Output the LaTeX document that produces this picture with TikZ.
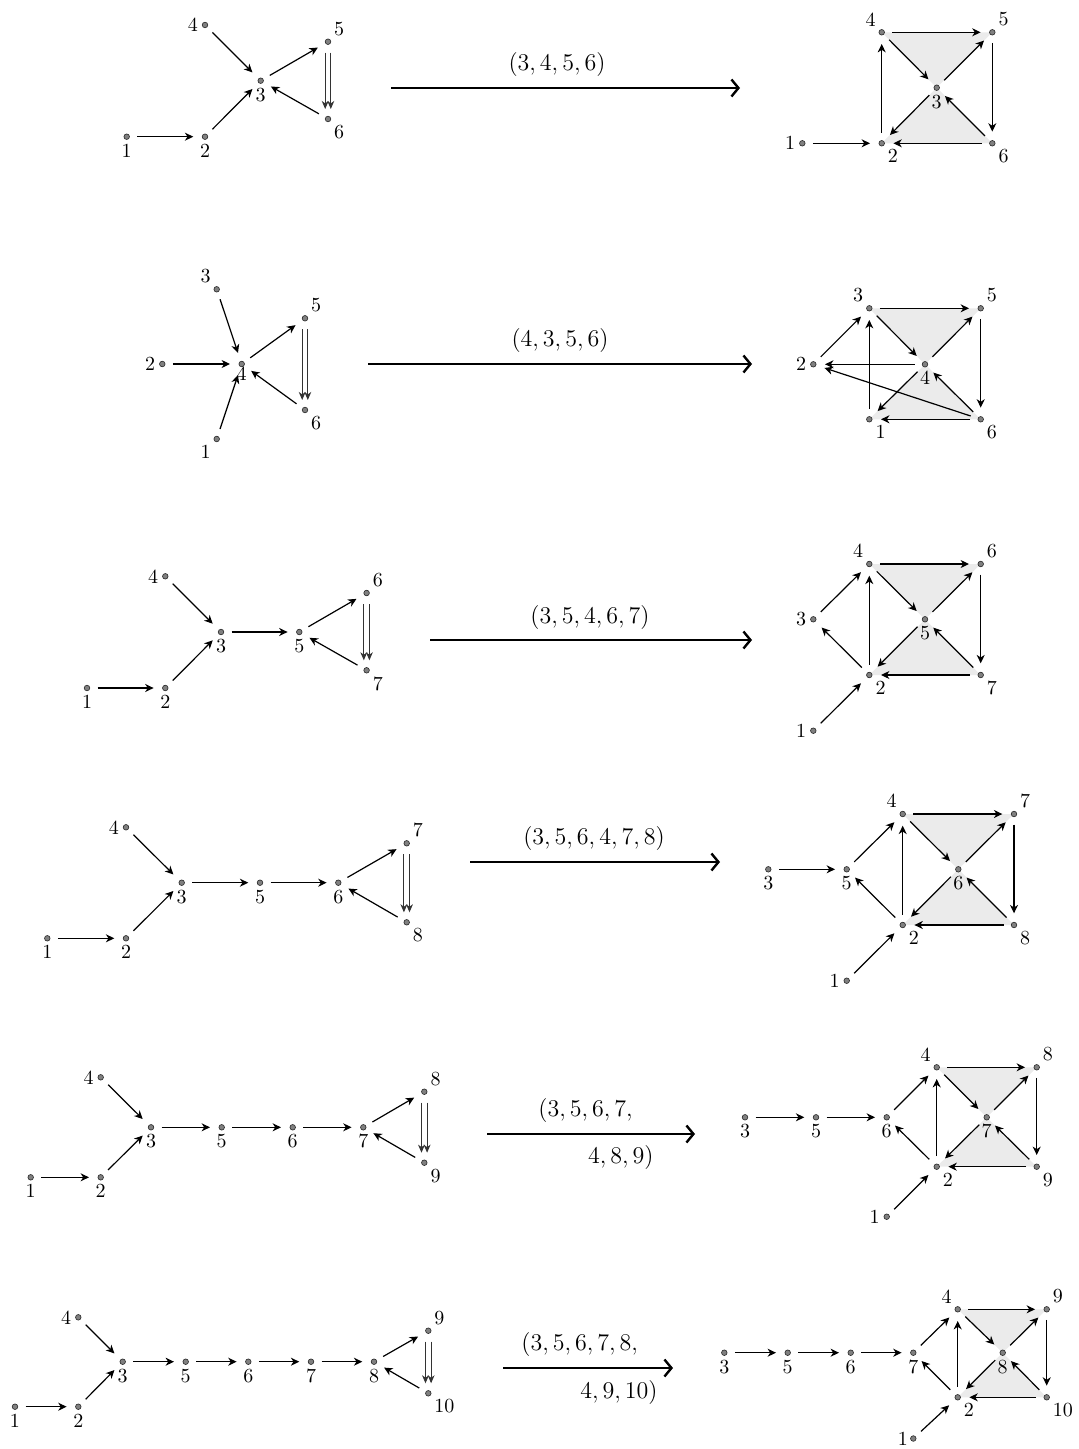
\documentclass[tikz,border=0pt]{standalone}
\usetikzlibrary{arrows.meta}
\begin{document}
\begin{tikzpicture}[x=0.5pt,y=-0.5pt,
 v/.style={circle, fill=black!50, draw=black!85, line width=0.3pt, inner sep=0pt, minimum size=2.8pt},
 lbl/.style={inner sep=1.8pt},
 e/.style={-{Stealth[length=4.2pt,width=4pt,inset=1.3pt]}, line width=0.6pt, shorten <=3.7pt, shorten >=4.3pt},
 dbl/.style={-{Stealth[length=4pt,width=3.4pt,inset=1.2pt]}, line width=0.5pt, draw=black!80, shorten <=5.5pt, shorten >=5pt},
 big/.style={-{Straight Barb[length=3.5pt,width=8.5pt]}, line width=1.2pt},
 tri/.style={fill=black!8},
 al/.style={font=\fontsize{13.2}{16}\selectfont, inner sep=0pt}
]
\useasboundingbox (0,0) rectangle (1078,1449);

% ---------- Row 1 ----------
\node[v,label={[lbl]below:1}] (a1) at (126.7,136.7) {};
\node[v,label={[lbl]below:2}] (a2) at (205,136.7) {};
\node[v,label={[lbl]below:3}] (a3) at (260.7,80.7) {};
\node[v,label={[lbl]left:4}] (a4) at (205,25) {};
\node[v,label={[lbl]above right:5}] (a5) at (328,41.7) {};
\node[v,label={[lbl]below right:6}] (a6) at (328,119) {};
\foreach \s/\t in {a1/a2,a2/a3,a4/a3,a3/a5,a6/a3} \draw[e] (\s) -- (\t);
\draw[dbl] ([xshift=-1.4pt]a5.center) -- ([xshift=-1.4pt]a6.center);
\draw[dbl] ([xshift=1.4pt]a5.center) -- ([xshift=1.4pt]a6.center);

\coordinate (r1s) at (391,88); \coordinate (r1e) at (740,88);
\draw[big] (r1s) -- (r1e);
\node[al] (t1) at (557,65) {$(3,4,5,6)$};

\coordinate (b1p) at (802.3,143.3); \coordinate (b2p) at (881.7,143.3);
\coordinate (b3p) at (936.7,87.7); \coordinate (b4p) at (881.7,32.3);
\coordinate (b5p) at (992.3,32.3); \coordinate (b6p) at (992.3,143.3);
\fill[tri] (b4p) -- (b5p) -- (b3p) -- cycle;
\fill[tri] (b3p) -- (b2p) -- (b6p) -- cycle;
\node[v,label={[lbl]left:1}] (b1) at (b1p) {};
\node[v,label={[lbl]below right:2}] (b2) at (b2p) {};
\node[v,label={[lbl]below:3}] (b3) at (b3p) {};
\node[v,label={[lbl]above left:4}] (b4) at (b4p) {};
\node[v,label={[lbl]above right:5}] (b5) at (b5p) {};
\node[v,label={[lbl]below right:6}] (b6) at (b6p) {};
\foreach \s/\t in {b1/b2,b2/b4,b4/b5,b4/b3,b3/b5,b5/b6,b6/b3,b3/b2,b6/b2} \draw[e] (\s) -- (\t);

% ---------- Row 2 ----------
\node[v,label={[lbl]below left:1}] (c1) at (216.7,439) {};
\node[v,label={[lbl]left:2}] (c2) at (162.3,364) {};
\node[v,label={[lbl]above left:3}] (c3) at (216.7,289.3) {};
\node[v,label={[lbl,label distance=-2pt]below:4}] (c4) at (241.7,364) {};
\node[v,label={[lbl]above right:5}] (c5) at (305,318.3) {};
\node[v,label={[lbl]below right:6}] (c6) at (305,410) {};
\foreach \s/\t in {c3/c4,c2/c4,c1/c4,c4/c5,c6/c4} \draw[e] (\s) -- (\t);
\draw[dbl] ([xshift=-1.4pt]c5.center) -- ([xshift=-1.4pt]c6.center);
\draw[dbl] ([xshift=1.4pt]c5.center) -- ([xshift=1.4pt]c6.center);

\coordinate (r2s) at (368,364); \coordinate (r2e) at (752,364);
\draw[big] (r2s) -- (r2e);
\node[al] (t2) at (560,340) {$(4,3,5,6)$};

\coordinate (d1p) at (869.3,419.3); \coordinate (d2p) at (813.3,364.3);
\coordinate (d3p) at (869.3,308.3); \coordinate (d4p) at (925,364.3);
\coordinate (d5p) at (980.7,308.3); \coordinate (d6p) at (980.7,419.3);
\fill[tri] (d3p) -- (d5p) -- (d4p) -- cycle;
\fill[tri] (d4p) -- (d1p) -- (d6p) -- cycle;
\node[v,label={[lbl]below right:1}] (d1) at (d1p) {};
\node[v,label={[lbl]left:2}] (d2) at (d2p) {};
\node[v,label={[lbl]above left:3}] (d3) at (d3p) {};
\node[v,label={[lbl]below:4}] (d4) at (d4p) {};
\node[v,label={[lbl]above right:5}] (d5) at (d5p) {};
\node[v,label={[lbl]below right:6}] (d6) at (d6p) {};
\foreach \s/\t in {d3/d5,d3/d4,d4/d5,d5/d6,d6/d4,d6/d1,d4/d1,d1/d3,d2/d3,d4/d2,d6/d2} \draw[e] (\s) -- (\t);

% ---------- Row 3 ----------
\node[v,label={[lbl]below:1}] (f1) at (87,688) {};
\node[v,label={[lbl]below:2}] (f2) at (165.3,688) {};
\node[v,label={[lbl]below:3}] (f3) at (221,632) {};
\node[v,label={[lbl]left:4}] (f4) at (165.3,576.3) {};
\node[v,label={[lbl]below:5}] (f5) at (299.3,632) {};
\node[v,label={[lbl]above right:6}] (f6) at (366.6,593) {};
\node[v,label={[lbl]below right:7}] (f7) at (366.6,670.3) {};
\foreach \s/\t in {f1/f2,f2/f3,f4/f3,f3/f5,f5/f6,f7/f5} \draw[e] (\s) -- (\t);
\draw[dbl] ([xshift=-1.4pt]f6.center) -- ([xshift=-1.4pt]f7.center);
\draw[dbl] ([xshift=1.4pt]f6.center) -- ([xshift=1.4pt]f7.center);

\coordinate (r3s) at (430,640); \coordinate (r3e) at (752,640);
\draw[big] (r3s) -- (r3e);
\node[al] (t3) at (590,617) {$(3,5,4,6,7)$};

\coordinate (g1p) at (813.3,730.7); \coordinate (g2p) at (869.3,675);
\coordinate (g3p) at (813.3,619.3); \coordinate (g4p) at (869.3,564);
\coordinate (g5p) at (925,619.3); \coordinate (g6p) at (980.7,564);
\coordinate (g7p) at (980.7,675);
\fill[tri] (g4p) -- (g6p) -- (g5p) -- cycle;
\fill[tri] (g5p) -- (g2p) -- (g7p) -- cycle;
\node[v,label={[lbl]left:1}] (g1) at (g1p) {};
\node[v,label={[lbl]below right:2}] (g2) at (g2p) {};
\node[v,label={[lbl]left:3}] (g3) at (g3p) {};
\node[v,label={[lbl]above left:4}] (g4) at (g4p) {};
\node[v,label={[lbl]below:5}] (g5) at (g5p) {};
\node[v,label={[lbl]above right:6}] (g6) at (g6p) {};
\node[v,label={[lbl]below right:7}] (g7) at (g7p) {};
\foreach \s/\t in {g1/g2,g2/g3,g3/g4,g2/g4,g4/g6,g4/g5,g5/g6,g6/g7,g7/g5,g7/g2,g5/g2} \draw[e] (\s) -- (\t);

% ---------- Row 4 ----------
\node[v,label={[lbl]below:1}] (h1) at (47.3,938.3) {};
\node[v,label={[lbl]below:2}] (h2) at (126,938.3) {};
\node[v,label={[lbl]below:3}] (h3) at (181.7,882.7) {};
\node[v,label={[lbl]left:4}] (h4) at (126,827.3) {};
\node[v,label={[lbl]below:5}] (h5) at (260,882.7) {};
\node[v,label={[lbl]below:6}] (h6) at (338.3,882.7) {};
\node[v,label={[lbl]above right:7}] (h7) at (406.7,843.3) {};
\node[v,label={[lbl]below right:8}] (h8) at (406.7,922.3) {};
\foreach \s/\t in {h1/h2,h2/h3,h4/h3,h3/h5,h5/h6,h6/h7,h8/h6} \draw[e] (\s) -- (\t);
\draw[dbl] ([xshift=-1.4pt]h7.center) -- ([xshift=-1.4pt]h8.center);
\draw[dbl] ([xshift=1.4pt]h7.center) -- ([xshift=1.4pt]h8.center);

\coordinate (r4s) at (470,862); \coordinate (r4e) at (720,862);
\draw[big] (r4s) -- (r4e);
\node[al] (t4) at (594,838) {$(3,5,6,4,7,8)$};

\coordinate (k1p) at (846.7,980.7); \coordinate (k2p) at (902.7,925);
\coordinate (k3p) at (768.3,869.3); \coordinate (k4p) at (902.7,814);
\coordinate (k5p) at (846.7,869.3); \coordinate (k6p) at (958.3,869.3);
\coordinate (k7p) at (1014,814); \coordinate (k8p) at (1014,925);
\fill[tri] (k4p) -- (k7p) -- (k6p) -- cycle;
\fill[tri] (k6p) -- (k2p) -- (k8p) -- cycle;
\node[v,label={[lbl]left:1}] (k1) at (k1p) {};
\node[v,label={[lbl]below right:2}] (k2) at (k2p) {};
\node[v,label={[lbl]below:3}] (k3) at (k3p) {};
\node[v,label={[lbl]above left:4}] (k4) at (k4p) {};
\node[v,label={[lbl]below:5}] (k5) at (k5p) {};
\node[v,label={[lbl]below:6}] (k6) at (k6p) {};
\node[v,label={[lbl]above right:7}] (k7) at (k7p) {};
\node[v,label={[lbl]below right:8}] (k8) at (k8p) {};
\foreach \s/\t in {k3/k5,k5/k4,k2/k5,k1/k2,k2/k4,k4/k7,k4/k6,k6/k7,k7/k8,k8/k6,k8/k2,k6/k2} \draw[e] (\s) -- (\t);

% ---------- Row 5 ----------
\node[v,label={[lbl]below:1}] (m1) at (30.7,1177.3) {};
\node[v,label={[lbl]below:2}] (m2) at (100.7,1177.3) {};
\node[v,label={[lbl]below:3}] (m3) at (151,1127.3) {};
\node[v,label={[lbl]left:4}] (m4) at (100.7,1077.3) {};
\node[v,label={[lbl]below:5}] (m5) at (221.7,1127.3) {};
\node[v,label={[lbl]below:6}] (m6) at (292.7,1127.3) {};
\node[v,label={[lbl]below:7}] (m7) at (363.3,1127.3) {};
\node[v,label={[lbl]above right:8}] (m8) at (424.3,1091.7) {};
\node[v,label={[lbl]below right:9}] (m9) at (424.3,1162.7) {};
\foreach \s/\t in {m1/m2,m2/m3,m4/m3,m3/m5,m5/m6,m6/m7,m7/m8,m9/m7} \draw[e] (\s) -- (\t);
\draw[dbl] ([xshift=-1.4pt]m8.center) -- ([xshift=-1.4pt]m9.center);
\draw[dbl] ([xshift=1.4pt]m8.center) -- ([xshift=1.4pt]m9.center);

\coordinate (r5s) at (487,1134); \coordinate (r5e) at (695,1134);
\draw[big] (r5s) -- (r5e);
\node[al,anchor=west] (t5a) at (538,1110) {$(3,5,6,7,$};
\node[al,anchor=east] (t5b) at (654,1157) {$4,8,9)$};

\coordinate (n1p) at (886.7,1216.7); \coordinate (n2p) at (936.7,1166.7);
\coordinate (n3p) at (745,1117.3); \coordinate (n4p) at (936.7,1067.3);
\coordinate (n5p) at (816,1117.3); \coordinate (n6p) at (886.7,1117.3);
\coordinate (n7p) at (986.7,1117.3); \coordinate (n8p) at (1036.7,1067.3);
\coordinate (n9p) at (1036.7,1166.7);
\fill[tri] (n4p) -- (n8p) -- (n7p) -- cycle;
\fill[tri] (n7p) -- (n2p) -- (n9p) -- cycle;
\node[v,label={[lbl]left:1}] (n1) at (n1p) {};
\node[v,label={[lbl]below right:2}] (n2) at (n2p) {};
\node[v,label={[lbl]below:3}] (n3) at (n3p) {};
\node[v,label={[lbl]above left:4}] (n4) at (n4p) {};
\node[v,label={[lbl]below:5}] (n5) at (n5p) {};
\node[v,label={[lbl]below:6}] (n6) at (n6p) {};
\node[v,label={[lbl]below:7}] (n7) at (n7p) {};
\node[v,label={[lbl]above right:8}] (n8) at (n8p) {};
\node[v,label={[lbl]below right:9}] (n9) at (n9p) {};
\foreach \s/\t in {n3/n5,n5/n6,n6/n4,n2/n6,n1/n2,n2/n4,n4/n8,n4/n7,n7/n8,n8/n9,n9/n7,n9/n2,n7/n2} \draw[e] (\s) -- (\t);

% ---------- Row 6 ----------
\node[v,label={[lbl]below:1}] (p1) at (15,1406.7) {};
\node[v,label={[lbl]below:2}] (p2) at (78.3,1406.7) {};
\node[v,label={[lbl]below:3}] (p3) at (122.7,1361.7) {};
\node[v,label={[lbl]left:4}] (p4) at (78.3,1317.3) {};
\node[v,label={[lbl]below:5}] (p5) at (185.7,1361.7) {};
\node[v,label={[lbl]below:6}] (p6) at (248.3,1361.7) {};
\node[v,label={[lbl]below:7}] (p7) at (311,1361.7) {};
\node[v,label={[lbl]below:8}] (p8) at (374,1361.7) {};
\node[v,label={[lbl]above right:9}] (p9) at (428.3,1330.7) {};
\node[v,label={[lbl]below right:10}] (p10) at (428.3,1393.3) {};
\foreach \s/\t in {p1/p2,p2/p3,p4/p3,p3/p5,p5/p6,p6/p7,p7/p8,p8/p9,p10/p8} \draw[e] (\s) -- (\t);
\draw[dbl] ([xshift=-1.4pt]p9.center) -- ([xshift=-1.4pt]p10.center);
\draw[dbl] ([xshift=1.4pt]p9.center) -- ([xshift=1.4pt]p10.center);

\coordinate (r6s) at (503,1368); \coordinate (r6e) at (673,1368);
\draw[big] (r6s) -- (r6e);
\node[al,anchor=west] (t6a) at (521,1344) {$(3,5,6,7,8,$};
\node[al,anchor=east] (t6b) at (658,1392) {$4,9,10)$};

\coordinate (q1p) at (913.3,1438.5); \coordinate (q2p) at (957.7,1397.3);
\coordinate (q3p) at (724.3,1352.7); \coordinate (q4p) at (957.7,1309.3);
\coordinate (q5p) at (787.7,1352.7); \coordinate (q6p) at (850.7,1352.7);
\coordinate (q7p) at (913.3,1352.7); \coordinate (q8p) at (1002.7,1352.7);
\coordinate (q9p) at (1046.7,1309.3); \coordinate (q10p) at (1046.7,1397.3);
\fill[tri] (q4p) -- (q9p) -- (q8p) -- cycle;
\fill[tri] (q8p) -- (q2p) -- (q10p) -- cycle;
\node[v,label={[lbl,inner sep=1pt]left:1}] (q1) at (q1p) {};
\node[v,label={[lbl]below right:2}] (q2) at (q2p) {};
\node[v,label={[lbl]below:3}] (q3) at (q3p) {};
\node[v,label={[lbl]above left:4}] (q4) at (q4p) {};
\node[v,label={[lbl]below:5}] (q5) at (q5p) {};
\node[v,label={[lbl]below:6}] (q6) at (q6p) {};
\node[v,label={[lbl]below:7}] (q7) at (q7p) {};
\node[v,label={[lbl]below:8}] (q8) at (q8p) {};
\node[v,label={[lbl]above right:9}] (q9) at (q9p) {};
\node[v,label={[lbl]below right:10}] (q10) at (q10p) {};
\foreach \s/\t in {q3/q5,q5/q6,q6/q7,q7/q4,q2/q7,q1/q2,q2/q4,q4/q9,q4/q8,q8/q9,q9/q10,q10/q8,q10/q2,q8/q2} \draw[e] (\s) -- (\t);
\end{tikzpicture}
\end{document}
